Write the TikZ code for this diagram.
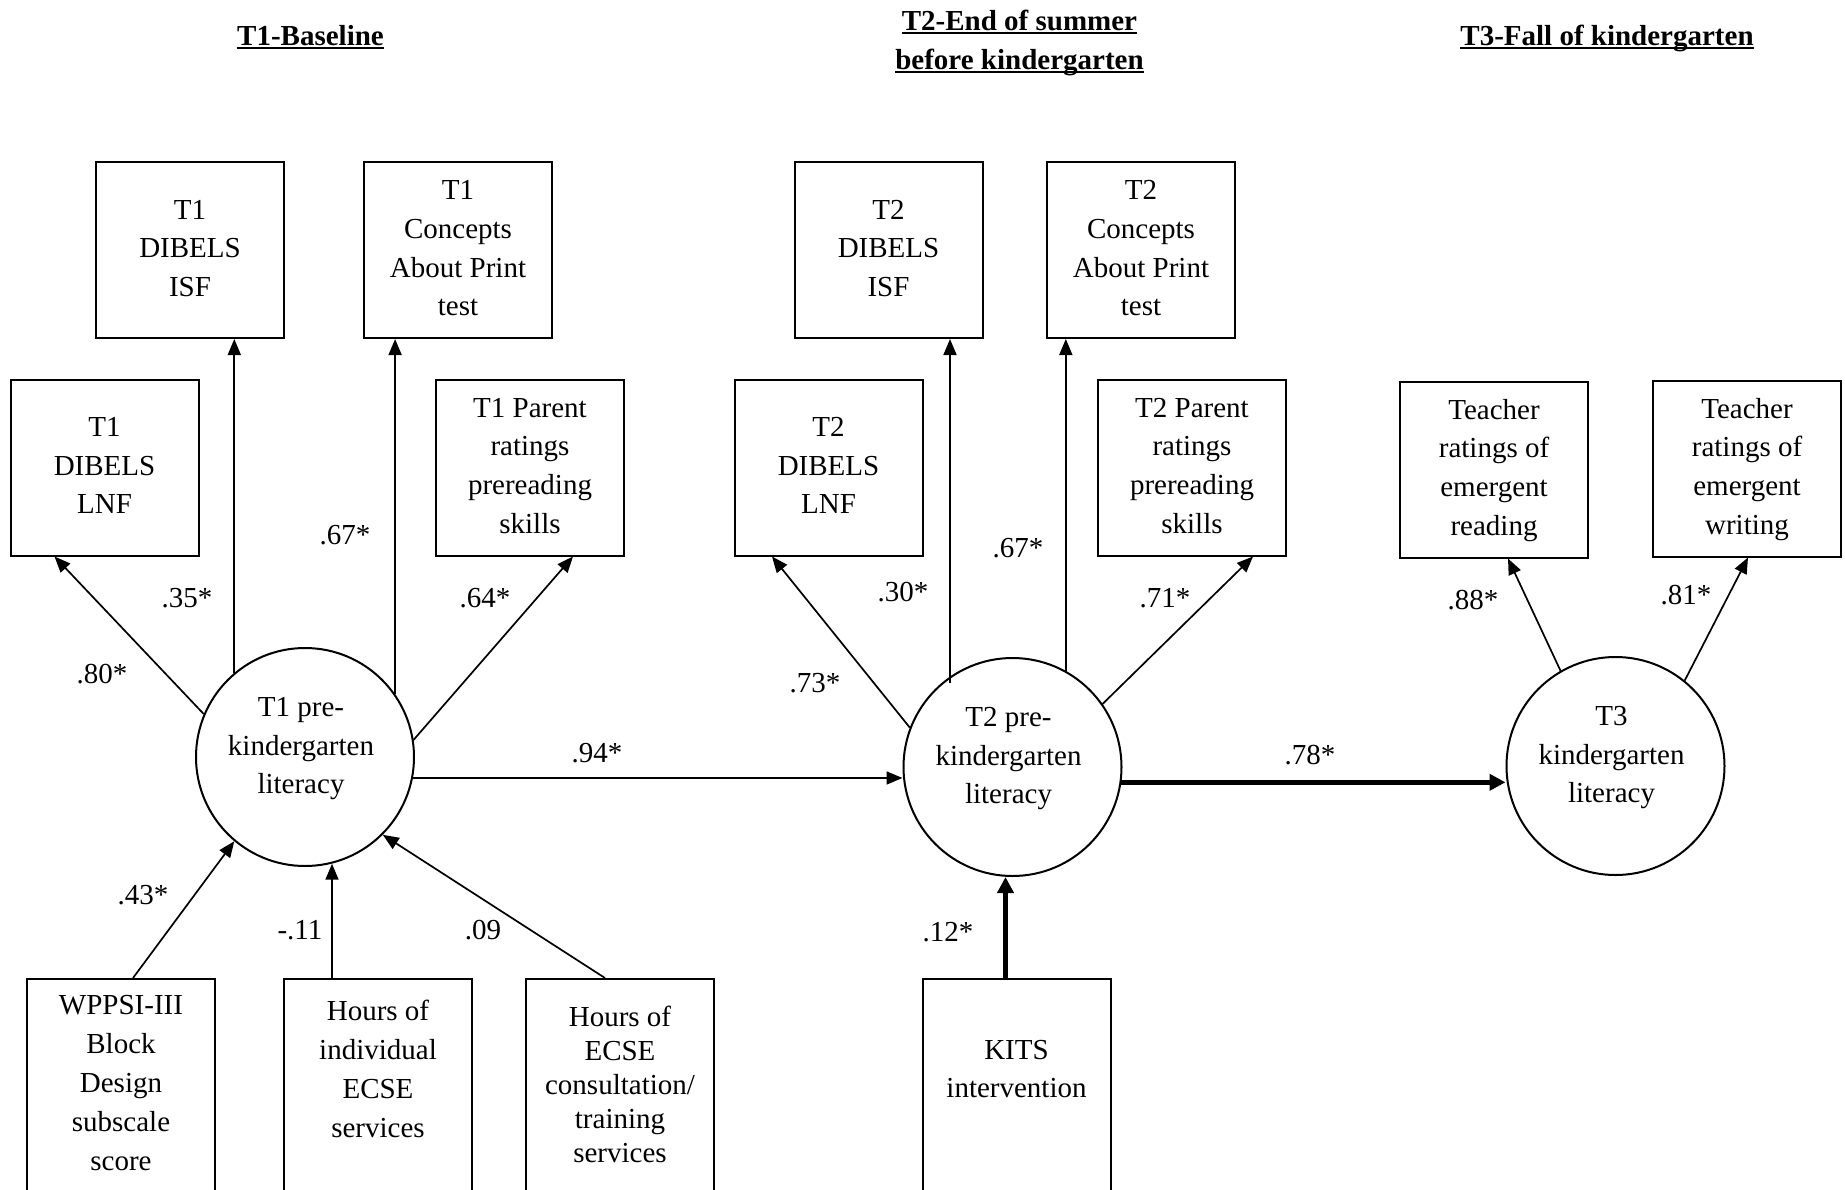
\documentclass[tikz,border=0pt]{standalone}
\usepackage{fontspec}
\setmainfont{Liberation Serif}
\usetikzlibrary{arrows.meta,calc}
\newcommand{\cdep}{\rule[-31pt]{0pt}{31pt}}
\newcommand{\rp}{\hspace*{8pt}\mbox{}}
\begin{document}
\begin{tikzpicture}[x=1pt,y=-1pt,
  bx/.style={draw, line width=2pt, minimum width=188pt, minimum height=176pt, inner sep=0pt, align=center,
    font=\fontsize{29}{38.7}\selectfont},
  bbx/.style={draw, line width=2pt, minimum width=188pt, minimum height=240pt, inner sep=0pt, anchor=north},
  btxt/.style={inner sep=0pt, align=center},
  lat/.style={draw, circle, line width=2pt, minimum size=218pt, inner sep=0pt, align=center,
    font=\fontsize{29}{38.7}\selectfont},
  lab/.style={inner sep=0pt, font=\fontsize{29}{34}\selectfont},
  hd/.style={inner sep=0pt, anchor=base, font=\bfseries\fontsize{29}{34}\selectfont},
  ul/.style={line width=2.4pt},
  arr/.style={line width=1.7pt, -{Triangle[length=16pt,width=13pt]}},
  tarr/.style={line width=5pt, -{Triangle[length=16pt,width=16pt]}}]
\useasboundingbox (0,0) rectangle (1845,1189);
\clip (0,0) rectangle (1845,1189);

% headers
\node[hd] (h1) at (310.5,45) {T1-Baseline};
\node[hd] (h2a) at (1019.5,30) {T2-End of summer};
\node[hd] (h2b) at (1019.5,69) {before kindergarten};
\node[hd] (h3) at (1607,45) {T3-Fall of kindergarten};
\foreach \h in {h1,h2a,h2b,h3}
  \draw[ul] ([yshift=-3pt]\h.base west) -- ([yshift=-3pt]\h.base east);

% indicator boxes
\node[bx] (isf1) at (190,250) {\strut T1\\DIBELS\\ISF\strut};
\node[bx] (cap1) at (458,250) {\strut T1\\Concepts\\About Print\\test\strut};
\node[bx] (lnf1) at (104.5,467.5) {\strut T1\\DIBELS\\LNF\strut};
\node[bx] (par1) at (530,467.5) {\strut T1 Parent\\ratings\\prereading\\skills\strut};
\node[bx] (isf2) at (888.5,250) {\strut T2\\DIBELS\\ISF\strut};
\node[bx] (cap2) at (1141,250) {\strut T2\\Concepts\\About Print\\test\strut};
\node[bx] (lnf2) at (828.5,467.5) {\strut T2\\DIBELS\\LNF\strut};
\node[bx] (par2) at (1192,467.5) {\strut T2 Parent\\ratings\\prereading\\skills\strut};
\node[bx] (trd) at (1494,469.5) {\strut Teacher\\ratings of\\emergent\\reading\strut};
\node[bx] (twr) at (1747,468.5) {\strut Teacher\\ratings of\\emergent\\writing\strut};

% bottom boxes
\node[bbx] (wp) at (121,978) {};
\node[bbx] (hi) at (378,978) {};
\node[bbx] (hc) at (620,978) {};
\node[bbx] (kits) at (1016.5,978) {};
\node[btxt, font=\fontsize{29}{38.8}\selectfont] (wpt) at (121,1084.8) {\strut WPPSI-III\\Block\\Design\\subscale\\score\strut};
\node[btxt, font=\fontsize{29}{39}\selectfont] (hit) at (378,1070.7) {\strut Hours of\\individual\\ECSE\\services\strut};
\node[btxt, font=\fontsize{29}{34}\selectfont] (hct) at (620,1087.2) {\strut Hours of\\ECSE\\consultation/\\training\\services\strut};
\node[btxt, font=\fontsize{29}{38}\selectfont] (kt) at (1016.5,1070.4) {\strut KITS\\intervention\strut};

% latent variables
\node[lat] (t1) at (305,757) {\strut T1 pre-\rp\\kindergarten\rp\\literacy\rp\cdep};
\node[lat] (t2) at (1012.5,767) {\strut T2 pre-\rp\\kindergarten\rp\\literacy\rp\cdep};
\node[lat] (t3) at (1615.5,766) {\strut T3\rp\\kindergarten\rp\\literacy\rp\cdep};

% T1 loadings
\draw[arr] (t1.157) -- ([xshift=-50pt]lnf1.south);
\draw[arr] (t1.130) -- (t1.130 |- isf1.south);
\draw[arr] (t1.35) -- (t1.35 |- cap1.south);
\draw[arr] (t1.9) -- ([xshift=43pt]par1.south);
\draw[arr] (t1.-11) -- (t1.-11 -| t2.west);

% T2 loadings
\coordinate (t2i) at ($(t2.center)+(-62.5,-84)$);
\draw[arr] (t2.159) -- ([xshift=-56.5pt]lnf2.south);
\draw[arr] (t2i) -- (t2i |- isf2.south);
\draw[arr] (t2.61) -- (t2.61 |- cap2.south);
\draw[arr] (t2.35) -- ([xshift=61pt]par2.south);
\draw[tarr] (t2.-8) -- (t2.-8 -| t3.west);

% T3 loadings
\draw[arr] (t3.120) -- ([xshift=14pt]trd.south);
\draw[arr] (t3.51) -- ([xshift=1pt]twr.south);

% predictors
\draw[arr] ([xshift=12pt]wp.north) -- (t1.230);
\draw[arr] ([xshift=-46pt]hi.north) -- ([xshift=-46pt]hi.north |- t1.284);
\draw[arr] ([xshift=-15pt]hc.north) -- (t1.315);
\draw[tarr] ([xshift=-11pt]kits.north) -- ([xshift=-11pt]kits.north |- t2.south);

% labels
\node[lab] (l80) at (102,674) {.80*};
\node[lab] (l35) at (187,598) {.35*};
\node[lab] (l67a) at (345,535) {.67*};
\node[lab] (l64) at (485,598) {.64*};
\node[lab] (l94) at (597,753) {.94*};
\node[lab] (l43) at (143,895) {.43*};
\node[lab] (l11) at (300,930) {-.11};
\node[lab] (l09) at (483,930) {.09};
\node[lab] (l73) at (815,683) {.73*};
\node[lab] (l30) at (903,592) {.30*};
\node[lab] (l67b) at (1018,548) {.67*};
\node[lab] (l71) at (1165,598) {.71*};
\node[lab] (l12) at (948,932) {.12*};
\node[lab] (l78) at (1310,755) {.78*};
\node[lab] (l88) at (1473,600) {.88*};
\node[lab] (l81) at (1686,595) {.81*};
\end{tikzpicture}
\end{document}
